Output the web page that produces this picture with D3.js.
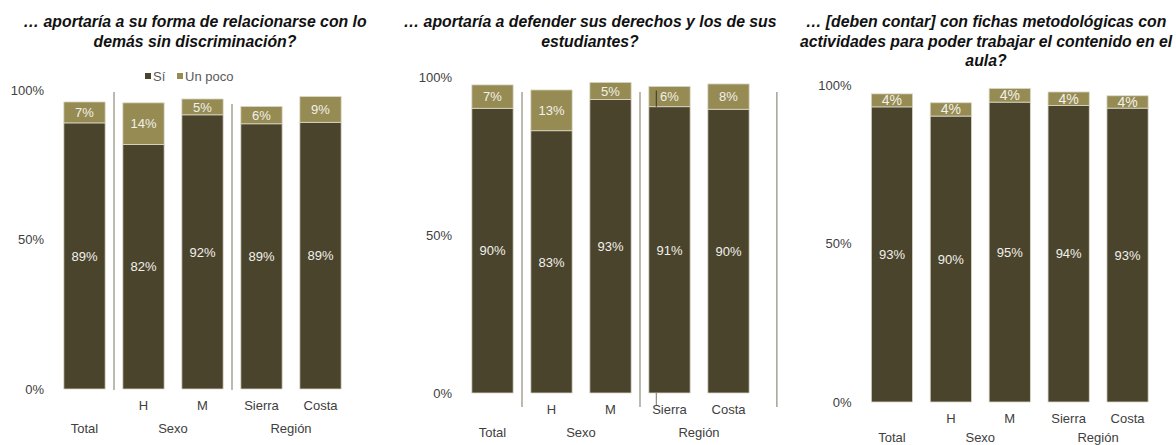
<!DOCTYPE html>
<html>
<head>
<meta charset="utf-8">
<script src="https://cdn.jsdelivr.net/npm/d3@7/dist/d3.min.js"></script>
<style>
  html, body { margin: 0; padding: 0; background: #ffffff; }
  svg { display: block; }
  text { font-family: "Liberation Sans", Arial, sans-serif; }
</style>
</head>
<body>
<svg id="chart" width="1176" height="445"></svg>
<script>
// ---------- DATA ----------
const categories = ["Total", "H", "M", "Sierra", "Costa"];
const subLabels = ["", "H", "M", "Sierra", "Costa"];
const groupLabels = ["Total", "Sexo", "Región"];
const seriesNames = ["Sí", "Un poco"];
const yTicks = [0, 50, 100];

const titles1 = ["… aportaría a su forma de relacionarse con lo", "demás sin discriminación?"];
const titles2 = ["… aportaría a defender sus derechos y los de sus", "estudiantes?"];
const titles3 = ["… [deben contar] con fichas metodológicas con", "actividades para poder trabajar el contenido en el", "aula?"];

const si1 = [89.0, 81.8, 91.7, 88.7, 89.2];
const poco1 = [7.0, 13.9, 5.3, 5.8, 8.6];
const si2 = [90.1, 83.0, 92.9, 90.6, 89.8];
const poco2 = [7.4, 12.9, 5.4, 6.4, 8.0];
const si3 = [93.1, 90.2, 94.6, 93.5, 92.7];
const poco3 = [4.1, 4.2, 4.3, 4.3, 3.9];

// ---------- STYLE / LAYOUT ----------
const colDark = "#4a442d";
const colLight = "#958b53";
const textCol = "#404040";

const panels = [
  { titles: titles1, si: si1, poco: poco1, x0: 55, x1: 350, yBase: 389, yTop: 90, titleX: 195,
    legend: true, seps: [{after: 0, top: 92}, {after: 2, top: 104}], sepBottom: 390, pocoFont: "sans",
    groupDy: 39, marks: false },
  { titles: titles2, si: si2, poco: poco2, x0: 463, x1: 758, yBase: 393, yTop: 77, titleX: 590,
    legend: false, seps: [{after: 0, top: 92}, {after: 2, top: 92}, {after: 4, top: 92, extra: true}], sepBottom: 407, pocoFont: "sans",
    groupDy: 39, marks: true },
  { titles: titles3, si: si3, poco: poco3, x0: 862.5, x1: 1157, yBase: 402, yTop: 85, titleX: 986,
    legend: false, seps: [], sepBottom: 402, pocoFont: "serif",
    groupDy: 35, marks: false }
];

const svg = d3.select("#chart");

panels.forEach((p) => {
  const g = svg.append("g");
  const x = d3.scaleBand().domain(categories).range([p.x0, p.x1]).paddingInner(0.3).paddingOuter(0.15);
  const y = d3.scaleLinear().domain([0, 100]).range([p.yBase, p.yTop]);

  // title
  const t = g.append("text")
    .attr("text-anchor", "middle")
    .attr("font-size", 15.8)
    .attr("font-weight", "bold")
    .attr("font-style", "italic")
    .attr("fill", "#111111");
  p.titles.forEach((line, i) => {
    t.append("tspan").attr("x", p.titleX).attr("y", 27 + i * 19.5).text(line);
  });

  // y axis
  const yAxis = d3.axisLeft(y).tickValues(yTicks).tickSize(0).tickPadding(0)
    .tickFormat(d => d + "%");
  const ya = g.append("g").attr("transform", `translate(${p.x0 - 11},0)`).call(yAxis);
  ya.select(".domain").remove();
  ya.selectAll("text").attr("font-size", 13).attr("fill", textCol)
    .attr("font-family", "Liberation Sans, Arial, sans-serif");

  // separators
  const step = x.step();
  p.seps.forEach(s => {
    const cat = categories[s.after];
    const sx = s.extra ? x(cat) + x.bandwidth() + step * 0.47 : x(cat) + x.bandwidth() + (step - x.bandwidth()) / 2;
    g.append("line")
      .attr("x1", sx).attr("x2", sx)
      .attr("y1", s.top).attr("y2", p.sepBottom)
      .attr("stroke", "#8f8a78").attr("stroke-width", 1.2);
  });

  // stacked data
  const rows = categories.map((c, i) => ({ cat: c, si: p.si[i], poco: p.poco[i] }));
  const stack = d3.stack().keys(["si", "poco"])(rows);
  const colors = [colDark, colLight];

  stack.forEach((layer, li) => {
    g.append("g").selectAll("rect").data(layer).join("rect")
      .attr("x", d => x(d.data.cat))
      .attr("width", x.bandwidth())
      .attr("y", d => y(d[1]))
      .attr("height", d => y(d[0]) - y(d[1]))
      .attr("fill", colors[li])
      .attr("stroke", "#dcd8c8")
      .attr("stroke-width", 0.8);
  });

  // small stray marks seen at the Sierra bar of the second panel
  if (p.marks) {
    const sx = x("Sierra") + 7.5;
    const layer = stack[1][3];
    g.append("line").attr("x1", sx).attr("x2", sx)
      .attr("y1", y(layer[1]) + 4).attr("y2", y(layer[0]))
      .attr("stroke", colDark).attr("stroke-width", 1.2);
    g.append("line").attr("x1", sx).attr("x2", sx)
      .attr("y1", p.yBase).attr("y2", p.yBase + 12)
      .attr("stroke", "#8f8a78").attr("stroke-width", 1.2);
  }

  stack.forEach((layer, li) => {
    const serif = li === 1 && p.pocoFont === "serif";
    g.append("g").selectAll("text").data(layer).join("text")
      .attr("x", d => x(d.data.cat) + x.bandwidth() / 2)
      .attr("y", d => (y(d[0]) + y(d[1])) / 2)
      .attr("dy", "0.36em")
      .attr("text-anchor", "middle")
      .attr("font-size", serif ? 14 : 13)
      .attr("font-family", serif ? "Liberation Serif, Times New Roman, serif" : "Liberation Sans, Arial, sans-serif")
      .attr("fill", "#f2f0ea")
      .text(d => Math.round(d[1] - d[0]) + "%");
  });

  // category labels
  g.append("g").selectAll("text").data(categories).join("text")
    .attr("x", d => x(d) + x.bandwidth() / 2)
    .attr("y", p.yBase + 16)
    .attr("dy", "0.36em")
    .attr("text-anchor", "middle")
    .attr("font-size", 13)
    .attr("fill", textCol)
    .text((d, i) => subLabels[i]);

  const groupCenters = [
    x(categories[0]) + x.bandwidth() / 2,
    (x(categories[1]) + x(categories[2])) / 2 + x.bandwidth() / 2,
    (x(categories[3]) + x(categories[4])) / 2 + x.bandwidth() / 2
  ];
  g.append("g").selectAll("text").data(groupLabels).join("text")
    .attr("x", (d, i) => groupCenters[i])
    .attr("y", p.yBase + p.groupDy)
    .attr("dy", "0.36em")
    .attr("text-anchor", "middle")
    .attr("font-size", 13)
    .attr("fill", textCol)
    .text(d => d);

  // legend
  if (p.legend) {
    const lg = g.append("g").attr("transform", "translate(145,76)");
    const offsets = [0, 32];
    seriesNames.forEach((name, i) => {
      const item = lg.append("g").attr("transform", `translate(${offsets[i]},0)`);
      item.append("rect").attr("x", 0).attr("y", -3).attr("width", 6).attr("height", 6).attr("fill", colors[i]);
      item.append("text").attr("x", 8).attr("y", 0).attr("dy", "0.36em")
        .attr("font-size", 13).attr("fill", "#595959").text(name);
    });
  }
});
</script>
</body>
</html>
